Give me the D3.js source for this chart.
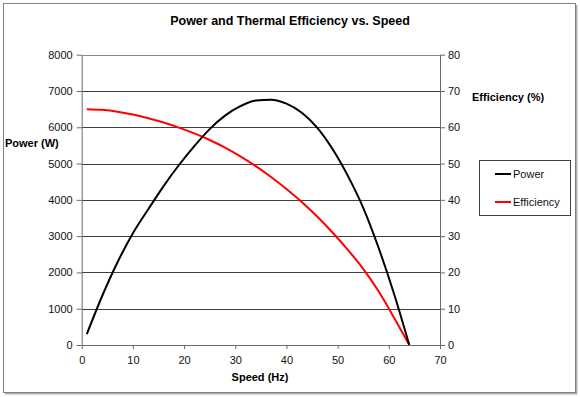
<!DOCTYPE html>
<html>
<head>
<meta charset="utf-8">
<script src="https://cdn.jsdelivr.net/npm/d3@7"></script>
<style>
  body { margin: 0; background: #fff; }
  svg { display: block; font-family: "Liberation Sans", Arial, sans-serif; }
</style>
</head>
<body>
<svg id="chart" width="580" height="397"></svg>
<script>
// speed in Hz
const speed = [1, 4, 7, 10, 13, 16, 19, 22, 25, 28, 31, 34, 37, 40, 43, 46, 49, 52, 55, 58, 61, 64];
// power in W
const power = [300, 1350, 2280, 3080, 3740, 4380, 4960, 5480, 5950, 6320, 6580, 6740, 6760, 6650, 6400, 5990, 5400, 4660, 3780, 2680, 1420, 0];
// efficiency in %
const efficiency = [65.0, 64.8, 64.3, 63.5, 62.5, 61.3, 59.9, 58.3, 56.5, 54.4, 52.0, 49.3, 46.3, 43.0, 39.4, 35.4, 31.0, 26.2, 21.0, 14.8, 7.6, 0];

const xTicks = [0, 10, 20, 30, 40, 50, 60, 70];
const powerTicks = [0, 1000, 2000, 3000, 4000, 5000, 6000, 7000, 8000];
const effTicks = [0, 10, 20, 30, 40, 50, 60, 70, 80];

const svg = d3.select("#chart");

const plot = { left: 81.7, right: 440, top: 54.7, bottom: 345 };

const x = d3.scaleLinear().domain([0, 70]).range([plot.left, plot.right]);
const yP = d3.scaleLinear().domain([0, 8000]).range([plot.bottom, plot.top]);
const yE = d3.scaleLinear().domain([0, 80]).range([plot.bottom, plot.top]);

// chart border with shadow
svg.append("line").attr("x1", 5).attr("x2", 577).attr("y1", 393.5).attr("y2", 393.5)
  .attr("stroke", "#b0b0b0").attr("stroke-width", 2);
svg.append("line").attr("x1", 576.5).attr("x2", 576.5).attr("y1", 5).attr("y2", 394)
  .attr("stroke", "#b0b0b0").attr("stroke-width", 2);
svg.append("rect")
  .attr("x", 3.5).attr("y", 3.5).attr("width", 572).attr("height", 389)
  .attr("fill", "none").attr("stroke", "#7f7f7f");

// title
svg.append("text")
  .attr("x", 290).attr("y", 25)
  .attr("text-anchor", "middle")
  .attr("font-size", "12.5px").attr("font-weight", "bold")
  .text("Power and Thermal Efficiency vs. Speed");

// gridlines
svg.append("g")
  .selectAll("line")
  .data(powerTicks.slice(1))
  .enter()
  .append("line")
  .attr("x1", plot.left).attr("x2", plot.right)
  .attr("y1", (d) => Math.round(yP(d)) + 0.5)
  .attr("y2", (d) => Math.round(yP(d)) + 0.5)
  .attr("stroke", (d) => (d === 8000 ? "#8a8a8a" : "#404040"))
  .attr("stroke-width", 1);

function styleAxis(g) {
  g.select(".domain").attr("stroke", "#6a6a6a");
  g.selectAll(".tick line").attr("stroke", "#6a6a6a");
  g.selectAll("text").attr("fill", "#111").attr("font-size", "11px")
    .attr("font-family", "Liberation Sans, Arial, sans-serif");
}

// left axis
svg.append("g")
  .attr("transform", "translate(" + plot.left + ",0)")
  .call(d3.axisLeft(yP).tickValues(powerTicks).tickSize(5).tickSizeOuter(0).tickPadding(4).tickFormat(d3.format("d")))
  .call(styleAxis);

// right axis
svg.append("g")
  .attr("transform", "translate(" + plot.right + ",0)")
  .call(d3.axisRight(yE).tickValues(effTicks).tickSize(5).tickSizeOuter(0).tickPadding(3).tickFormat(d3.format("d")))
  .call(styleAxis);

// bottom axis
svg.append("g")
  .attr("transform", "translate(0," + plot.bottom + ")")
  .call(d3.axisBottom(x).tickValues(xTicks).tickSize(4).tickSizeOuter(0).tickPadding(7).tickFormat(d3.format("d")))
  .call(styleAxis);

// axis titles
svg.append("text")
  .attr("x", 260).attr("y", 381)
  .attr("text-anchor", "middle")
  .attr("font-size", "11px").attr("font-weight", "bold")
  .text("Speed (Hz)");

svg.append("text")
  .attr("x", 5).attr("y", 147)
  .attr("font-size", "11px").attr("font-weight", "bold")
  .text("Power (W)");

svg.append("text")
  .attr("x", 472).attr("y", 101)
  .attr("font-size", "11px").attr("font-weight", "bold")
  .text("Efficiency (%)");

// lines
const powerLine = d3.line()
  .x((d, i) => x(speed[i]))
  .y((d) => yP(d))
  .curve(d3.curveMonotoneX);

const effLine = d3.line()
  .x((d, i) => x(speed[i]))
  .y((d) => yE(d))
  .curve(d3.curveMonotoneX);

svg.append("path")
  .datum(efficiency)
  .attr("fill", "none")
  .attr("stroke", "#ff0000")
  .attr("stroke-width", 2)
  .attr("d", effLine);

svg.append("path")
  .datum(power)
  .attr("fill", "none")
  .attr("stroke", "#000")
  .attr("stroke-width", 2)
  .attr("d", powerLine);

// legend
const legend = svg.append("g");
legend.append("rect")
  .attr("x", 479.5).attr("y", 160.5).attr("width", 91).attr("height", 55)
  .attr("fill", "#fff").attr("stroke", "#404040");

const series = [
  { name: "Power", color: "#000", y: 174 },
  { name: "Efficiency", color: "#ff0000", y: 202 }
];

legend.selectAll(".item")
  .data(series)
  .enter()
  .append("g")
  .attr("class", "item")
  .each(function (d) {
    const g = d3.select(this);
    g.append("line")
      .attr("x1", 495).attr("x2", 511)
      .attr("y1", d.y).attr("y2", d.y)
      .attr("stroke", d.color).attr("stroke-width", 2);
    g.append("text")
      .attr("x", 513).attr("y", d.y + 4)
      .attr("font-size", "11px").attr("fill", "#111")
      .text(d.name);
  });
</script>
</body>
</html>
